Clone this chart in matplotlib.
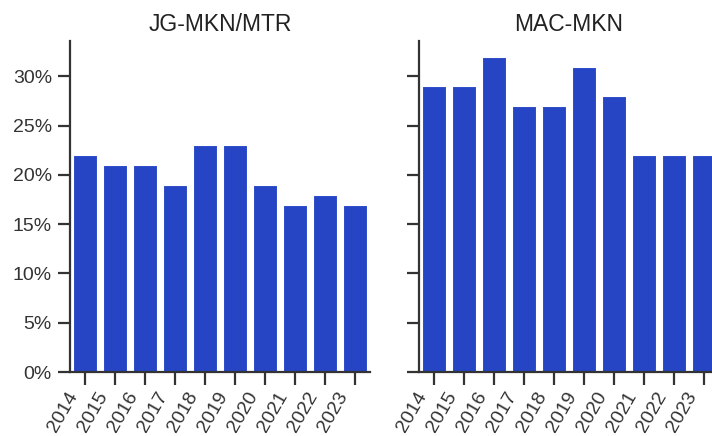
import matplotlib
matplotlib.use("Agg")
import matplotlib.pyplot as plt
import matplotlib.transforms as mtransforms
import seaborn as sns
from matplotlib.ticker import PercentFormatter

years = ["2014", "2015", "2016", "2017", "2018", "2019", "2020", "2021", "2022", "2023"]
jg_mkn_mtr = [22, 21, 21, 19, 23, 23, 19, 17, 18, 17]
mac_mkn = [29, 29, 32, 27, 27, 31, 28, 22, 22, 22]
titles = ["JG-MKN/MTR", "MAC-MKN"]

sns.set_theme(style="ticks")
plt.rcParams["font.family"] = ["Liberation Sans", "DejaVu Sans"]

W, H = 712, 436
fig = plt.figure(figsize=(W / 100, H / 100), dpi=100)

def px_axes(x0, x1, y0, y1):
    return [x0 / W, 1 - y1 / H, (x1 - x0) / W, (y1 - y0) / H]

ax1 = fig.add_axes(px_axes(70, 370, 41, 372))
ax2 = fig.add_axes(px_axes(419, 719, 41, 372), sharey=ax1)

color = "#2545c5"
shift = mtransforms.ScaledTranslation(-4 / 100, 0, fig.dpi_scale_trans)
for ax, vals, title in zip([ax1, ax2], [jg_mkn_mtr, mac_mkn], titles):
    sns.barplot(x=years, y=vals, ax=ax, color=color, saturation=1,
                edgecolor="white", linewidth=0.8)
    ax.set_xlim(-0.5, len(years) - 0.5)
    ax.set_title(title, fontsize=16.5, color="#222222", pad=7)
    ax.tick_params(axis="both", length=9, width=1.6, color="#333333",
                   labelsize=14, labelcolor="#333333")
    ax.tick_params(axis="y", pad=4)
    ax.tick_params(axis="x", pad=3)
    for lbl in ax.get_xticklabels():
        lbl.set_rotation(60)
        lbl.set_ha("right")
        lbl.set_transform(lbl.get_transform() + shift)
    for s in ["left", "bottom"]:
        ax.spines[s].set_linewidth(1.6)
        ax.spines[s].set_color("#333333")
    sns.despine(ax=ax)
    ax.set_xlabel("")
    ax.set_ylabel("")

ax1.yaxis.set_major_formatter(PercentFormatter(decimals=0))
ax1.set_yticks([0, 5, 10, 15, 20, 25, 30])
ax2.tick_params(axis="y", labelleft=False)

fig.savefig("out.png", dpi=100)
